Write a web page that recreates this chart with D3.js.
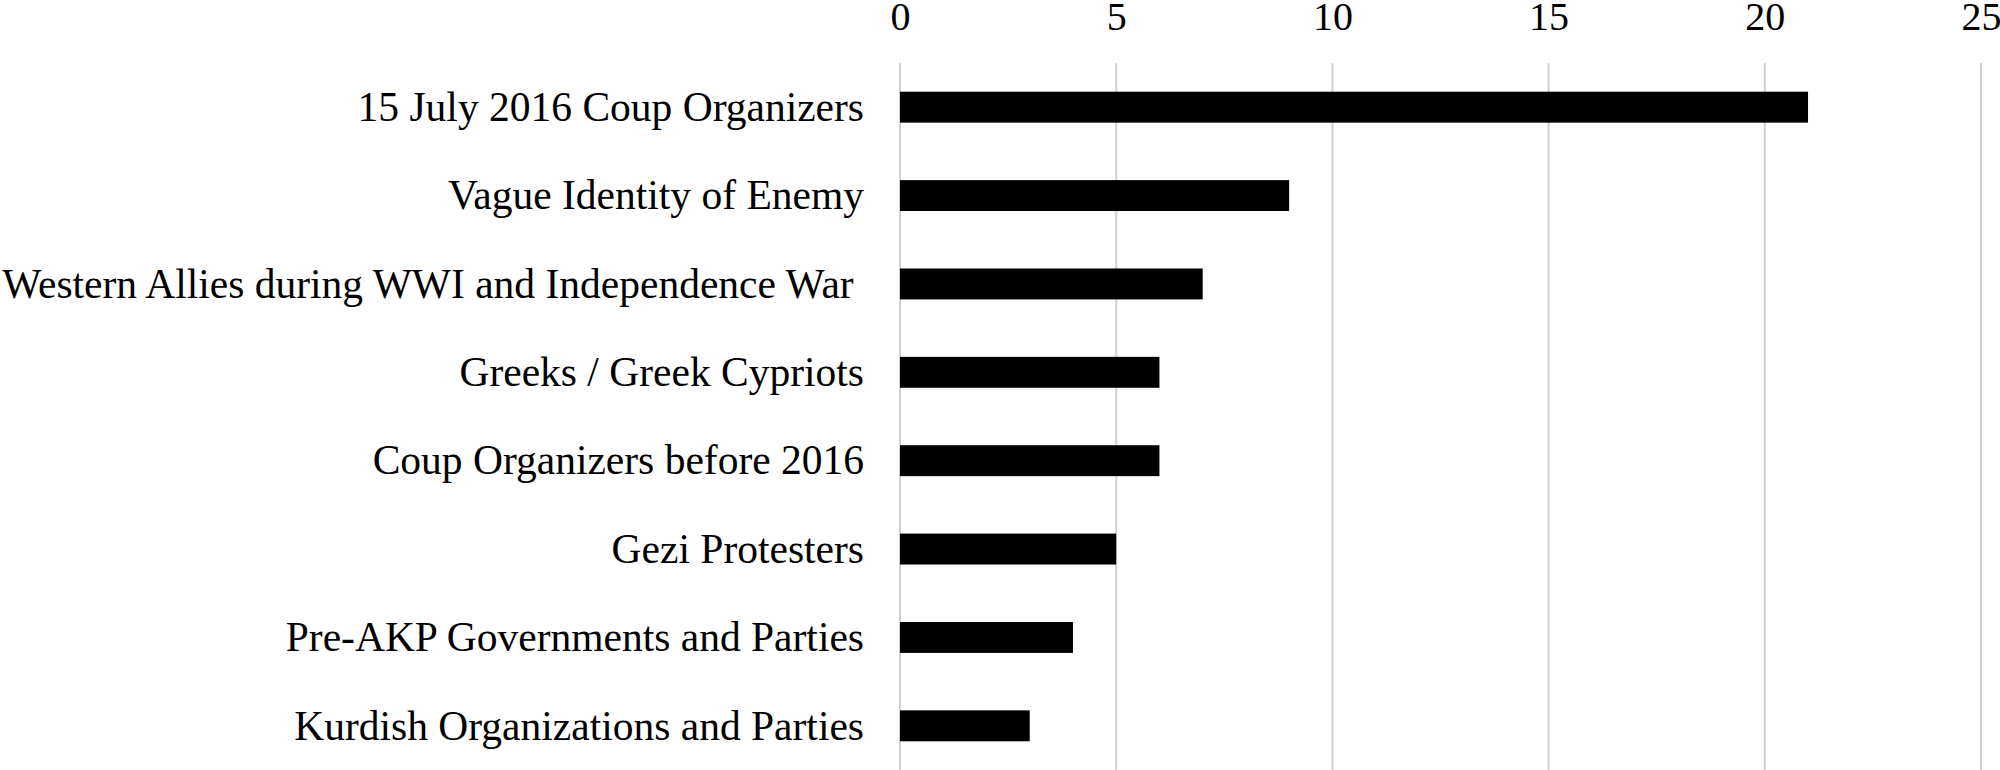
<!DOCTYPE html>
<html>
<head>
<meta charset="utf-8">
<script src="https://cdn.jsdelivr.net/npm/d3@7"></script>
<style>
  html, body { margin: 0; padding: 0; background: #fff; }
  svg { display: block; }
  text { font-family: "Liberation Serif", "Times New Roman", serif; fill: #000; }
</style>
</head>
<body>
<script>
const categories = [
  "15 July 2016 Coup Organizers",
  "Vague Identity of Enemy",
  "Western Allies during WWI and Independence War ",
  "Greeks / Greek Cypriots",
  "Coup Organizers before 2016",
  "Gezi Protesters",
  "Pre-AKP Governments and Parties",
  "Kurdish Organizations and Parties"
];
const values = [21, 9, 7, 6, 6, 5, 4, 3];
const tickValues = [0, 5, 10, 15, 20, 25];

const W = 2000, H = 770;
const svg = d3.select("body").append("svg").attr("width", W).attr("height", H);

const x = d3.scaleLinear().domain([0, 25]).range([900, 1981]);
const y = d3.scaleBand().domain(categories).range([63, 770]).paddingInner(0.65).paddingOuter(0.325);

// top axis labels
const axis = d3.axisTop(x).tickValues(tickValues).tickSize(0).tickPadding(0).tickFormat(d3.format("d"));
const gAxis = svg.append("g").attr("transform", "translate(0,30)").call(axis);
gAxis.select(".domain").remove();
gAxis.selectAll("text").attr("font-size", 40).attr("dy", 0)
  .style("font-family", "'Liberation Serif', 'Times New Roman', serif").attr("fill", "#000");

// vertical gridlines
svg.append("g").selectAll("line").data(tickValues).join("line")
  .attr("x1", d => x(d)).attr("x2", d => x(d))
  .attr("y1", 63).attr("y2", 770)
  .attr("stroke", "#d0d0d0").attr("stroke-width", 2);

// bars
svg.append("g").selectAll("rect").data(values).join("rect")
  .attr("x", x(0))
  .attr("y", (d, i) => y(categories[i]))
  .attr("width", d => x(d) - x(0))
  .attr("height", y.bandwidth())
  .attr("fill", "#000");

// category labels
svg.append("g").selectAll("text").data(categories).join("text")
  .attr("x", 864)
  .attr("y", d => y(d) + y.bandwidth() / 2)
  .attr("dy", "0.33em")
  .attr("text-anchor", "end")
  .attr("font-size", 41.5)
  .style("white-space", "pre")
  .text(d => d);
</script>
</body>
</html>
